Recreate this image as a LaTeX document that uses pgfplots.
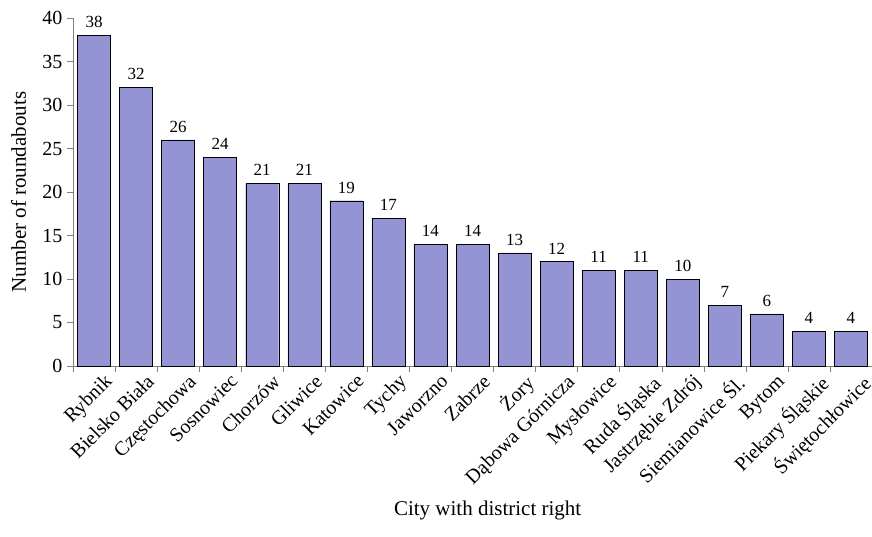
\documentclass[border=0pt]{standalone}
\usepackage{pgfplots}
\pgfplotsset{compat=1.18}
\usepackage{fontspec}
\setmainfont{Liberation Serif}
\definecolor{barfill}{RGB}{148,148,212}
\definecolor{axisgray}{RGB}{128,128,128}
\begin{document}
\begin{tikzpicture}
\begin{axis}[
  scale only axis,
  width=799pt, height=348pt,
  ymin=0, ymax=40,
  xmin=-0.5, xmax=18.5,
  ytick={0,5,...,40},
  xtick={0,...,18},
  xticklabels={Rybnik,Bielsko Biała,Częstochowa,Sosnowiec,Chorzów,Gliwice,Katowice,Tychy,Jaworzno,Zabrze,Żory,Dąbowa Górnicza,Mysłowice,Ruda Śląska,Jastrzębie Zdrój,Siemianowice Śl.,Bytom,Piekary Śląskie,Świętochłowice},
  minor xtick={-0.5,0.5,...,18.5},
  major x tick style={draw=none},
  minor x tick style={draw=axisgray, thin},
  minor tick length=6pt,
  y tick style={draw=axisgray, thin},
  major tick length=6pt,
  tick align=outside,
  axis x line*=bottom,
  axis y line*=left,
  axis line style={draw=axisgray, thin},
  x axis line style={-},
  y axis line style={-},
  /pgf/number format/assume math mode=true,
  tick label style={font=\fontsize{20}{22}\selectfont},
  xticklabel style={rotate=45, anchor=north east, inner sep=1pt, xshift=7pt, yshift=-6pt},
  yticklabel style={xshift=-1pt},
  ylabel={Number of roundabouts},
  ylabel style={font=\fontsize{21}{23}\selectfont, at={(axis description cs:-0.068,0.5)}, anchor=center},
  xlabel={City with district right},
  xlabel style={font=\fontsize{21}{23}\selectfont, at={(axis description cs:0.519,0)}, anchor=north, yshift=-131pt},
  ybar, bar width=33pt,
  nodes near coords,
  every node near coord/.append style={font=\fontsize{17}{19}\selectfont, yshift=4pt},
  clip=false,
]
\addplot[fill=barfill, draw=black, thin] coordinates {
  (0,38) (1,32) (2,26) (3,24) (4,21) (5,21) (6,19) (7,17) (8,14) (9,14)
  (10,13) (11,12) (12,11) (13,11) (14,10) (15,7) (16,6) (17,4) (18,4)
};
\end{axis}
\pgfresetboundingbox
\path[use as bounding box] (current axis.south west) ++(-73pt,-170pt) rectangle ++(872pt,536pt);
\end{tikzpicture}
\end{document}
